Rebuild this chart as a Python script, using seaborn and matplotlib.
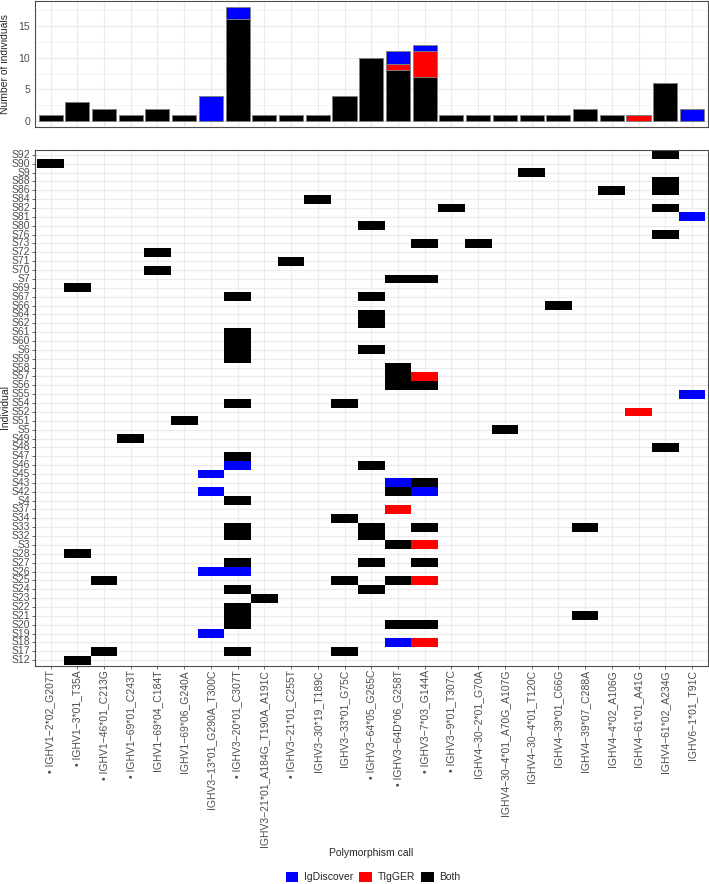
import numpy as np
import pandas as pd
import matplotlib
matplotlib.use("Agg")
import matplotlib.pyplot as plt
from matplotlib.colors import ListedColormap
from matplotlib.patches import Patch
import seaborn as sns

# polymorphismes (axe x), dans l'ordre du graphique
polymorphisms = [
    "IGHV1-2*02_G207T", "IGHV1-3*01_T35A", "IGHV1-46*01_C213G", "IGHV1-69*01_C243T",
    "IGHV1-69*04_C184T", "IGHV1-69*06_G240A", "IGHV3-13*01_G290A_T300C", "IGHV3-20*01_C307T",
    "IGHV3-21*01_A184G_T190A_A191C", "IGHV3-21*01_C255T", "IGHV3-30*19_T189C",
    "IGHV3-33*01_G75C", "IGHV3-64*05_G265C", "IGHV3-64D*06_G258T", "IGHV3-7*03_G144A",
    "IGHV3-9*01_T307C", "IGHV4-30-2*01_G70A", "IGHV4-30-4*01_A70G_A107G",
    "IGHV4-30-4*01_T120C", "IGHV4-39*01_C66G", "IGHV4-39*07_C288A", "IGHV4-4*02_A106G",
    "IGHV4-61*01_A41G", "IGHV4-61*02_A234G", "IGHV6-1*01_T91C",
]

# ceux marqués d'un point dans les étiquettes
marked = [
    "IGHV1-2*02_G207T", "IGHV1-3*01_T35A", "IGHV1-46*01_C213G", "IGHV1-69*01_C243T",
    "IGHV3-20*01_C307T", "IGHV3-21*01_C255T", "IGHV3-64*05_G265C", "IGHV3-64D*06_G258T",
    "IGHV3-7*03_G144A", "IGHV3-9*01_T307C",
]

# individus, de haut en bas
individuals = [
    "S92", "S90", "S9", "S88", "S86", "S84", "S82", "S81", "S80", "S76", "S73", "S72",
    "S71", "S70", "S7", "S69", "S67", "S66", "S64", "S62", "S61", "S60", "S6", "S59",
    "S58", "S57", "S56", "S55", "S54", "S52", "S51", "S5", "S49", "S48", "S47", "S46",
    "S45", "S43", "S42", "S4", "S37", "S34", "S33", "S32", "S3", "S28", "S27", "S26",
    "S25", "S24", "S23", "S22", "S21", "S20", "S19", "S18", "S17", "S12",
]

call_types = ["IgDiscover", "TIgGER", "Both"]
call_colors = ["#0000FF", "#FF0000", "#000000"]

both_calls = {
    "IGHV1-2*02_G207T": ["S90"],
    "IGHV1-3*01_T35A": ["S69", "S28", "S12"],
    "IGHV1-46*01_C213G": ["S25", "S17"],
    "IGHV1-69*01_C243T": ["S49"],
    "IGHV1-69*04_C184T": ["S72", "S70"],
    "IGHV1-69*06_G240A": ["S51"],
    "IGHV3-20*01_C307T": ["S67", "S61", "S60", "S6", "S59", "S54", "S47", "S4", "S33",
                          "S32", "S27", "S24", "S22", "S21", "S20", "S17"],
    "IGHV3-21*01_A184G_T190A_A191C": ["S23"],
    "IGHV3-21*01_C255T": ["S71"],
    "IGHV3-30*19_T189C": ["S84"],
    "IGHV3-33*01_G75C": ["S54", "S34", "S25", "S17"],
    "IGHV3-64*05_G265C": ["S80", "S67", "S64", "S62", "S6", "S46", "S33", "S32", "S27", "S24"],
    "IGHV3-64D*06_G258T": ["S7", "S58", "S57", "S56", "S42", "S3", "S25", "S20"],
    "IGHV3-7*03_G144A": ["S73", "S7", "S56", "S43", "S33", "S27", "S20"],
    "IGHV3-9*01_T307C": ["S82"],
    "IGHV4-30-2*01_G70A": ["S73"],
    "IGHV4-30-4*01_A70G_A107G": ["S5"],
    "IGHV4-30-4*01_T120C": ["S9"],
    "IGHV4-39*01_C66G": ["S66"],
    "IGHV4-39*07_C288A": ["S33", "S21"],
    "IGHV4-4*02_A106G": ["S86"],
    "IGHV4-61*02_A234G": ["S92", "S88", "S86", "S82", "S76", "S48"],
}

igdiscover_calls = {
    "IGHV3-13*01_G290A_T300C": ["S45", "S42", "S26", "S19"],
    "IGHV3-20*01_C307T": ["S46", "S26"],
    "IGHV3-64D*06_G258T": ["S43", "S18"],
    "IGHV3-7*03_G144A": ["S42"],
    "IGHV6-1*01_T91C": ["S81", "S55"],
}

tigger_calls = {
    "IGHV3-64D*06_G258T": ["S37"],
    "IGHV3-7*03_G144A": ["S57", "S3", "S25", "S18"],
    "IGHV4-61*01_A41G": ["S52"],
}

# tableau long : une ligne par appel
rows = []
for call, table in zip(call_types, [igdiscover_calls, tigger_calls, both_calls]):
    for poly, inds in table.items():
        for ind in inds:
            rows.append({"polymorphism": poly, "individual": ind, "call": call})
df = pd.DataFrame(rows)
df["pos"] = df["polymorphism"].map({p: i for i, p in enumerate(polymorphisms)})
df["code"] = df["call"].map({c: i for i, c in enumerate(call_types)})

mat = (df.pivot(index="individual", columns="polymorphism", values="code")
         .reindex(index=individuals, columns=polymorphisms))

tick_labels = [("\u2022 " if p in marked else "") + p.replace("-", "\u2212")
               for p in polymorphisms]

sns.set_theme(style="white")
plt.rcParams["font.family"] = ["Liberation Sans", "DejaVu Sans"]
fs = 7.5
grid_col = "#EBEBEB"
border_col = "#4D4D4D"
text_col = "#4D4D4D"

W, H = 709, 884
fig = plt.figure(figsize=(W / 100, H / 100), dpi=100)


def px_axes(left, top, right, bottom):
    return fig.add_axes([left / W, 1 - bottom / H, (right - left) / W, (bottom - top) / H])


# --- histogramme empilé en haut ---
ax_top = px_axes(34.5, 1, 708, 127)
sns.histplot(data=df, x="pos", hue="call", hue_order=call_types, palette=call_colors,
             multiple="stack", discrete=True, shrink=0.9, alpha=1,
             edgecolor="grey", linewidth=0.6, legend=False, ax=ax_top)
ax_top.set_xlim(-0.6, len(polymorphisms) - 0.4)
ax_top.set_ylim(-0.9, 18.9)
ax_top.set_xticks(range(len(polymorphisms)))
ax_top.set_xticks([], minor=True)
ax_top.set_yticks([0, 5, 10, 15])
ax_top.set_yticks([2.5, 7.5, 12.5, 17.5], minor=True)
ax_top.set_axisbelow(True)
ax_top.grid(True, which="major", color=grid_col, linewidth=0.8)
ax_top.grid(True, which="minor", axis="y", color=grid_col, linewidth=0.4)
ax_top.tick_params(axis="x", length=0, labelbottom=False)
ax_top.tick_params(axis="y", which="major", length=2, width=0.6, color=border_col,
                   labelsize=fs, labelcolor=text_col, pad=1.2)
ax_top.tick_params(axis="y", which="minor", length=0)
ax_top.set_xlabel("")
ax_top.set_ylabel("")
for s in ax_top.spines.values():
    s.set_visible(True)
    s.set_color(border_col)
    s.set_linewidth(0.8)

# --- carte des appels ---
ax = px_axes(34.5, 149.5, 708, 665.5)
sns.heatmap(mat, cmap=ListedColormap(call_colors), vmin=-0.5, vmax=2.5, cbar=False,
            xticklabels=tick_labels, yticklabels=individuals, ax=ax)
ax.set_xlim(-0.1, len(polymorphisms) + 0.1)
ax.set_ylim(len(individuals) + 0.1, -0.1)
ax.set_axisbelow(True)
ax.grid(True, color=grid_col, linewidth=0.8)
ax.set_xlabel("")
ax.set_ylabel("")
ax.tick_params(axis="both", length=2, width=0.6, color=border_col,
               labelsize=fs, labelcolor=text_col, pad=1.2, bottom=True, left=True)
plt.setp(ax.get_xticklabels(), rotation=90, ha="center", va="top")
plt.setp(ax.get_yticklabels(), rotation=0, ha="right", va="center")
for s in ax.spines.values():
    s.set_visible(True)
    s.set_color(border_col)
    s.set_linewidth(0.8)

# titres d'axes
fig.text(5.5 / W, 1 - 64 / H, "Number of individuals", rotation=90,
         ha="center", va="center", fontsize=fs)
fig.text(5.5 / W, 1 - 407 / H, "Individual", rotation=90,
         ha="center", va="center", fontsize=fs)
fig.text(371 / W, 1 - 853 / H, "Polymorphism call", ha="center", va="center", fontsize=fs)

handles = [Patch(facecolor=c, edgecolor="none") for c in call_colors]
fig.legend(handles, call_types, loc="center", bbox_to_anchor=(373 / W, 1 - 877 / H),
           ncol=3, frameon=False, fontsize=fs, handlelength=1.2, handleheight=1.2,
           handletextpad=0.55, columnspacing=0.6, borderpad=0)

fig.savefig("out.png", dpi=100)
